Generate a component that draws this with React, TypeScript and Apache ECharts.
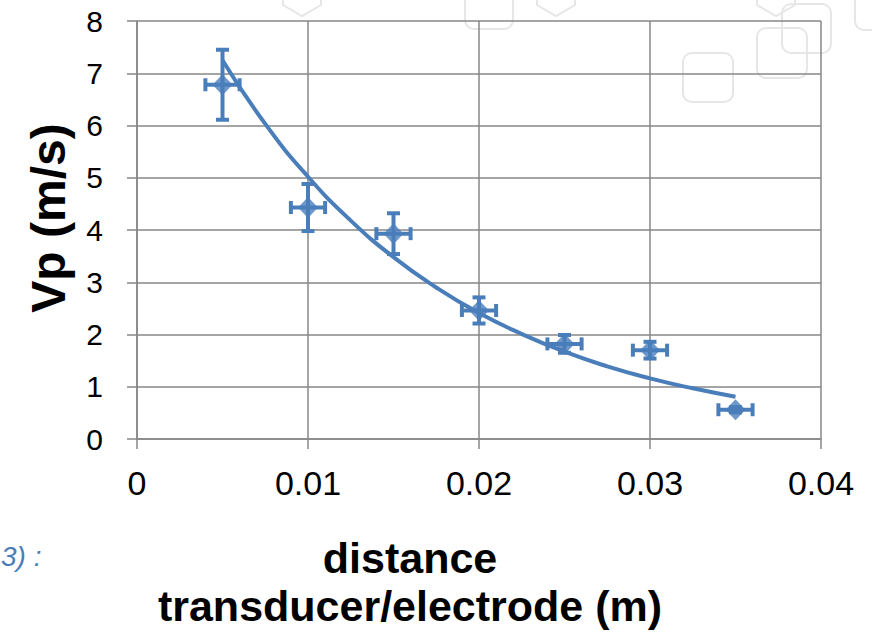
import React, { useEffect, useRef } from "react";
import * as echarts from "echarts";

// Measured points: distance transducer/electrode (m) vs Vp (m/s)
const distances = [0.005, 0.01, 0.015, 0.02, 0.025, 0.03, 0.035];
const vpValues = [6.78, 4.43, 3.93, 2.46, 1.82, 1.7, 0.56];
const vpErrors = [0.67, 0.45, 0.39, 0.25, 0.17, 0.16, 0.05];
const distanceErrors = [0.001, 0.001, 0.001, 0.001, 0.001, 0.001, 0.001];

// Exponential trend line
const trendX = [0.005, 0.0075, 0.01, 0.0125, 0.015, 0.0175, 0.02, 0.0225, 0.025, 0.0275, 0.03, 0.0325, 0.035];
const trendY = [7.25, 6.03, 5.02, 4.18, 3.48, 2.9, 2.41, 2.01, 1.67, 1.39, 1.16, 0.97, 0.81];

const xTitle = "distance\ntransducer/electrode (m)";
const yTitle = "Vp (m/s)";

const BLUE = "#4a7ebb";
const GRID = "#878787";
const DECO = "#e6e6e6";

export default function App() {
  const ref = useRef<HTMLDivElement>(null);

  useEffect(() => {
    if (!ref.current) return;
    const chart = echarts.init(ref.current, undefined, { renderer: "svg" });

    const points = distances.map((x, i) => [x, vpValues[i]]);
    const errData = distances.map((x, i) => [x, vpValues[i], distanceErrors[i], vpErrors[i]]);
    const trend = trendX.map((x, i) => [x, trendY[i]]);

    const hex = (cx: number) => ({
      type: "polygon",
      silent: true,
      z: -1,
      shape: {
        points: [
          [cx - 19, -17],
          [cx, -28],
          [cx + 19, -17],
          [cx + 19, 5],
          [cx, 16],
          [cx - 19, 5],
        ],
      },
      style: { fill: "none", stroke: DECO, lineWidth: 2 },
    });
    const rrect = (x: number, y: number, w: number, h: number) => ({
      type: "rect",
      silent: true,
      z: -1,
      shape: { x, y, width: w, height: h, r: 9 },
      style: { fill: "none", stroke: DECO, lineWidth: 2 },
    });

    chart.setOption({
      animation: false,
      backgroundColor: "#ffffff",
      textStyle: { fontFamily: "Liberation Sans, Arial, sans-serif" },
      graphic: [
        hex(302),
        hex(556),
        hex(776),
        rrect(465, -20, 48, 49),
        rrect(683, 53, 50, 49),
        rrect(757, 28, 50, 50),
        rrect(782, 4, 49, 49),
        rrect(855, -20, 48, 50),
        {
          type: "text",
          silent: true,
          left: 1,
          top: 542,
          style: {
            text: "3) :",
            fill: BLUE,
            font: "italic 28px 'Liberation Sans', sans-serif",
          },
        },
      ],
      grid: {
        left: 137,
        top: 21,
        width: 684,
        height: 418,
        containLabel: false,
        outerBoundsMode: "none",
      },
      xAxis: {
        type: "value",
        min: 0,
        max: 0.04,
        interval: 0.01,
        name: xTitle,
        nameLocation: "middle",
        nameGap: 95,
        nameTextStyle: {
          fontSize: 43,
          fontWeight: "bold",
          color: "#000",
          lineHeight: 48,
          padding: [0, 138, 0, 0],
        },
        axisLine: { show: true, lineStyle: { color: GRID, width: 1.5 } },
        axisTick: { show: true, inside: false, length: 10, lineStyle: { color: GRID, width: 1.5 } },
        axisLabel: { fontSize: 34, color: "#000", margin: 27 },
        splitLine: { show: true, lineStyle: { color: GRID, width: 1.5 } },
      },
      yAxis: {
        type: "value",
        min: 0,
        max: 8,
        interval: 1,
        name: yTitle,
        nameLocation: "middle",
        nameRotate: 90,
        nameGap: 65,
        nameTextStyle: {
          fontSize: 48,
          fontWeight: "bold",
          color: "#000",
          padding: [0, 0, 0, 24],
        },
        axisLine: { show: true, lineStyle: { color: GRID, width: 1.5 } },
        axisTick: { show: true, inside: false, length: 10, lineStyle: { color: GRID, width: 1.5 } },
        axisLabel: { fontSize: 30, color: "#000", margin: 34 },
        splitLine: { show: true, lineStyle: { color: GRID, width: 1.5 } },
      },
      series: [
        {
          type: "custom",
          name: "errors",
          data: errData,
          z: 3,
          renderItem: (params: any, api: any) => {
            const x = api.value(0);
            const y = api.value(1);
            const ex = api.value(2);
            const ey = api.value(3);
            const c = api.coord([x, y]);
            const top = api.coord([x, y + ey]);
            const bot = api.coord([x, y - ey]);
            const lft = api.coord([x - ex, y]);
            const rgt = api.coord([x + ex, y]);
            const cap = 6.5;
            const st = { stroke: BLUE, lineWidth: 4, fill: "none" };
            return {
              type: "group",
              children: [
                { type: "line", shape: { x1: c[0], y1: top[1], x2: c[0], y2: bot[1] }, style: st },
                { type: "line", shape: { x1: c[0] - cap, y1: top[1], x2: c[0] + cap, y2: top[1] }, style: st },
                { type: "line", shape: { x1: c[0] - cap, y1: bot[1], x2: c[0] + cap, y2: bot[1] }, style: st },
                { type: "line", shape: { x1: lft[0], y1: c[1], x2: rgt[0], y2: c[1] }, style: st },
                { type: "line", shape: { x1: lft[0], y1: c[1] - cap, x2: lft[0], y2: c[1] + cap }, style: st },
                { type: "line", shape: { x1: rgt[0], y1: c[1] - cap, x2: rgt[0], y2: c[1] + cap }, style: st },
              ],
            };
          },
        },
        {
          type: "scatter",
          name: "Vp",
          data: points,
          symbol: "diamond",
          symbolSize: [20, 21],
          itemStyle: { color: BLUE },
          z: 4,
        },
        {
          type: "line",
          name: "trend",
          data: trend,
          smooth: true,
          showSymbol: false,
          symbol: "none",
          lineStyle: { color: BLUE, width: 4 },
          z: 5,
        },
      ],
    });

    return () => chart.dispose();
  }, []);

  return (
    <div
      ref={ref}
      style={{ position: "absolute", left: 0, top: 0, width: 872, height: 636 }}
    />
  );
}
